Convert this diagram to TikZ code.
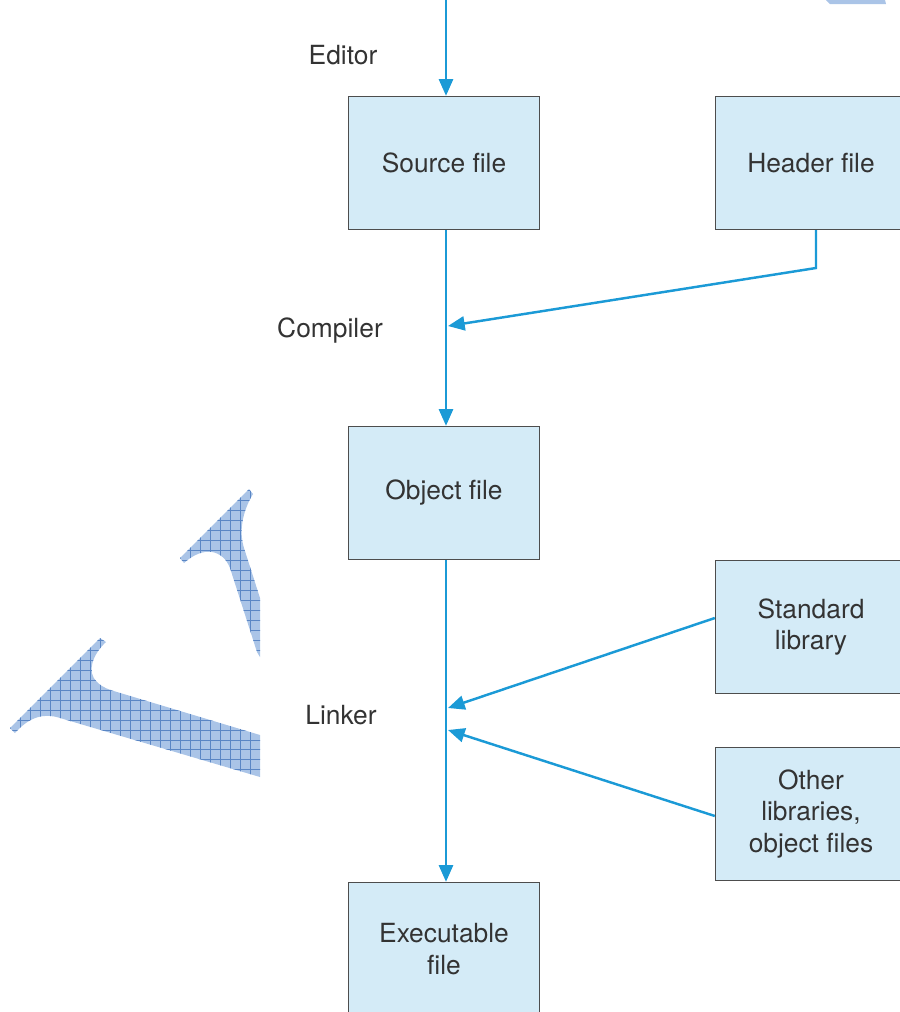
\documentclass[tikz,border=0pt]{standalone}
\usepackage{fontspec}
\setmainfont{TeX Gyre Heros}
\usetikzlibrary{arrows.meta}
\definecolor{flowline}{HTML}{1B9AD6}
\definecolor{boxfill}{HTML}{D4EBF7}
\definecolor{boxedge}{HTML}{4D4D4D}
\definecolor{textgray}{HTML}{333333}
\definecolor{markfill}{HTML}{AAC4E7}
\definecolor{markgrid}{HTML}{5A86C5}
\newcommand{\labelfont}{\fontsize{15}{18}\selectfont}
\tikzset{
	filebox/.style={draw=boxedge, line width=0.8pt, fill=boxfill, text=textgray,
		minimum width=3.82cm, minimum height=2.66cm, align=center, font=\labelfont},
	toolname/.style={text=textgray, font=\labelfont},
	flow/.style={draw=flowline, line width=1.4pt, -{Triangle[length=9.5pt,width=8pt]}},
	markgrid/.style={draw=markgrid, line width=0.4pt, step=0.2cm},
}

\begin{document}
\begin{tikzpicture}[x=0.02cm, y=-0.02cm]
			\useasboundingbox (0,0) rectangle (900,1012);
			
			% scanned watermark marks
			\begin{scope}
				\clip (180,558) -- (249,489) -- (253,494) .. controls (242,512) and (239,532) .. (244,548) -- (260,598) -- (260,657) -- (257,652) -- (230,568) .. controls (223,550) and (204,545) .. (184,563) -- cycle;
				\fill[markfill] (170,480) rectangle (262,665);
				\draw[markgrid] (170,480) grid (262,665);
			\end{scope}
			\begin{scope}
				\clip (10,728) -- (100,638) -- (106,642) .. controls (93,654) and (86,672) .. (97,682) .. controls (103,688) and (110,690) .. (117,692) -- (260,735) -- (260,777) -- (60,718) .. controls (45,713) and (30,716) .. (15,733) -- cycle;
				\fill[markfill] (0,630) rectangle (262,785);
				\draw[markgrid] (0,630) grid (262,785);
			\end{scope}
			\fill[markfill] (826,0) -- (885,0) -- (886,4) -- (830,4) -- cycle;
			
			% files
			\node[filebox] (src) at (444,163) {Source file};
			\node[filebox] (hdr) at (811,163) {Header file};
			\node[filebox] (obj) at (444,493) {Object file};
			\node[filebox] (stdlib) at (811,627) {Standard\\library};
			\node[filebox] (otherlib) at (811,814) {Other\\libraries,\\object files};
			\node[filebox] (exe) at (444,949) {Executable\\file};
			
			% tools
			\node[toolname] (editor) at (343,55) {Editor};
			\node[toolname] (compiler) at (330,331) {Compiler};
			\node[toolname] (linker) at (341,715) {Linker};
			
			\coordinate (start) at (446,0);
			\coordinate (hbend) at (816,268);
			\coordinate (cjoin) at (448,326);
			\coordinate (ljoin1) at (448,708);
			\coordinate (ljoin2) at (448,730);
			
			\draw[flow] (start) -- (start |- src.north);
			\draw[flow] (start |- src.south) -- (start |- obj.north);
			\draw[flow] (start |- obj.south) -- (start |- exe.north);
			\draw[flow] (hbend |- hdr.south) -- (hbend) -- (cjoin);
			\draw[flow] ([yshift=0.18cm]stdlib.west) -- (ljoin1);
			\draw[flow] ([yshift=-0.04cm]otherlib.west) -- (ljoin2);
		\end{tikzpicture}
\end{document}
